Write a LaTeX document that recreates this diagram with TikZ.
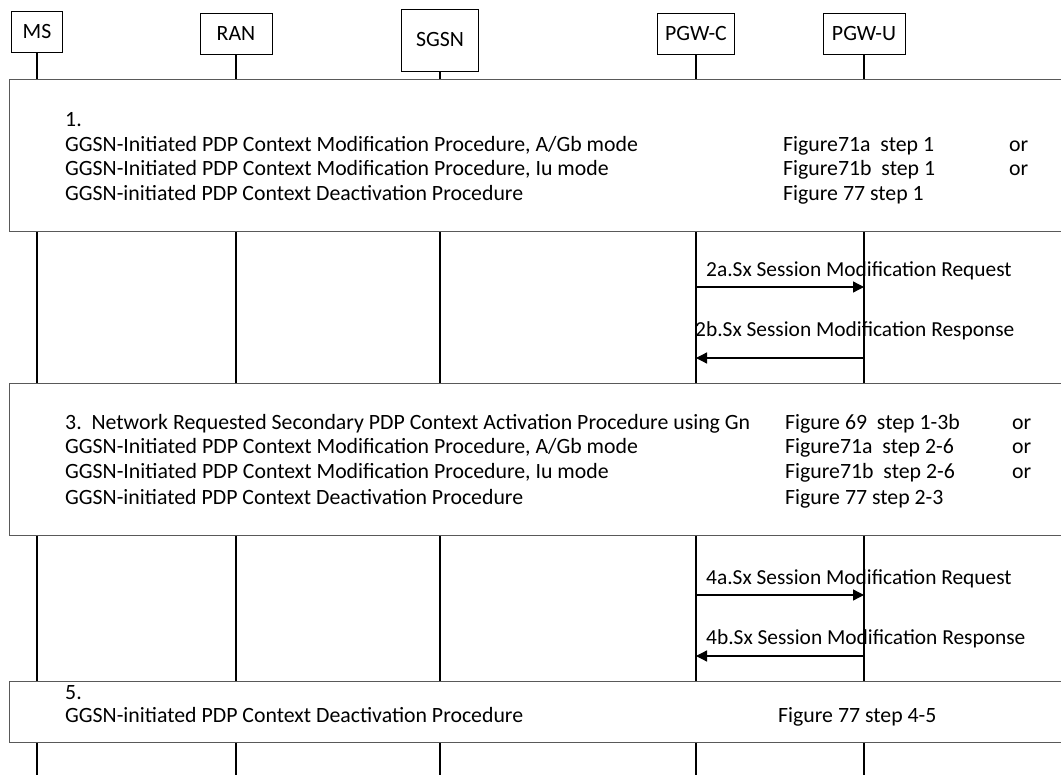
\documentclass[tikz,border=0pt]{standalone}
\usepackage{fontspec}
\setmainfont{Carlito}
\usetikzlibrary{arrows.meta}

\begin{document}
\begin{tikzpicture}[
  x=1pt, y=-1pt,
  font=\fontsize{21.8}{26}\selectfont,
  ent/.style={draw, line width=0.9pt, minimum height=41pt, inner sep=0pt},
  life/.style={line width=1.3pt},
  proc/.style={draw=black!65, fill=white, line width=1pt},
  txt/.style={anchor=base west, inner sep=0pt},
  lbl/.style={txt, font=\fontsize{21.4}{26}\selectfont},
  msg/.style={line width=1.3pt, -{Triangle[length=11pt, width=11pt]}}
]
  \useasboundingbox (0,0) rectangle (1061,775);
  % entities
  \node[ent, minimum width=51pt] (ms) at (37,32) {MS};
  \node[ent, minimum width=72pt] (ran) at (236,33.5) {RAN};
  \node[ent, minimum width=77pt, minimum height=62pt] (sgsn) at (440,40) {SGSN};
  \node[ent, minimum width=77pt] (pgwc) at (696,33.5) {PGW-C};
  \node[ent, minimum width=82pt] (pgwu) at (864,33.5) {PGW-U};
  % lifelines
  \coordinate (bot) at (0,775);
  \foreach \n in {ms,ran,sgsn,pgwc,pgwu}
    \draw[life] (\n.south) -- (\n.south |- bot);

  % step 1
  \draw[proc] (9,80) rectangle (1066,232);
  \node[txt] (s1n) at (65,127) {1.};
  \node[txt] (s1a) at (65,152) {GGSN-Initiated PDP Context Modification Procedure, A/Gb mode};
  \node[txt] (s1b) at (65,176) {GGSN-Initiated PDP Context Modification Procedure, Iu mode};
  \node[txt] (s1c) at (65,201) {GGSN-initiated PDP Context Deactivation Procedure};
  \node[txt] (f1a) at (783,152) {Figure71a\ \ step 1};
  \node[txt] (f1b) at (783,176) {Figure71b\ \ step 1};
  \node[txt] (f1c) at (783,201) {Figure 77 step 1};
  \node[txt] (o1a) at (1009,152) {or};
  \node[txt] (o1b) at (1009,176) {or};

  % step 2
  \coordinate (y2a) at (0,287);
  \coordinate (y2b) at (0,358);
  \draw[msg] (pgwc |- y2a) -- (pgwu |- y2a);
  \draw[msg] (pgwu |- y2b) -- (pgwc |- y2b);
  \node[lbl] (l2a) at (706,277) {2a.Sx Session Modification Request};
  \node[lbl] (l2b) at (695,337) {2b.Sx Session Modification Response};

  % step 3
  \draw[proc] (9,384) rectangle (1066,536);
  \node[txt] (s3n) at (65,430) {3.\ \ Network Requested Secondary PDP Context Activation Procedure using Gn};
  \node[txt] (s3a) at (65,454) {GGSN-Initiated PDP Context Modification Procedure, A/Gb mode};
  \node[txt] (s3b) at (65,479) {GGSN-Initiated PDP Context Modification Procedure, Iu mode};
  \node[txt] (s3c) at (65,504) {GGSN-initiated PDP Context Deactivation Procedure};
  \node[txt] (f3n) at (785,430) {Figure 69\ \ step 1-3b};
  \node[txt] (f3a) at (785,454) {Figure71a\ \ step 2-6};
  \node[txt] (f3b) at (785,479) {Figure71b\ \ step 2-6};
  \node[txt] (f3c) at (785,504) {Figure 77 step 2-3};
  \node[txt] (o3n) at (1012,430) {or};
  \node[txt] (o3a) at (1012,454) {or};
  \node[txt] (o3b) at (1012,479) {or};

  % step 4
  \coordinate (y4a) at (0,595);
  \coordinate (y4b) at (0,656);
  \draw[msg] (pgwc |- y4a) -- (pgwu |- y4a);
  \draw[msg] (pgwu |- y4b) -- (pgwc |- y4b);
  \node[lbl] (l4a) at (706,584) {4a.Sx Session Modification Request};
  \node[lbl] (l4b) at (706,644) {4b.Sx Session Modification Response};

  % step 5
  \draw[proc] (9,681) rectangle (1066,742);
  \node[txt] (s5n) at (65,699) {5.};
  \node[txt] (s5a) at (65,722) {GGSN-initiated PDP Context Deactivation Procedure};
  \node[txt] (f5a) at (778,722) {Figure 77 step 4-5};
\end{tikzpicture}
\end{document}
